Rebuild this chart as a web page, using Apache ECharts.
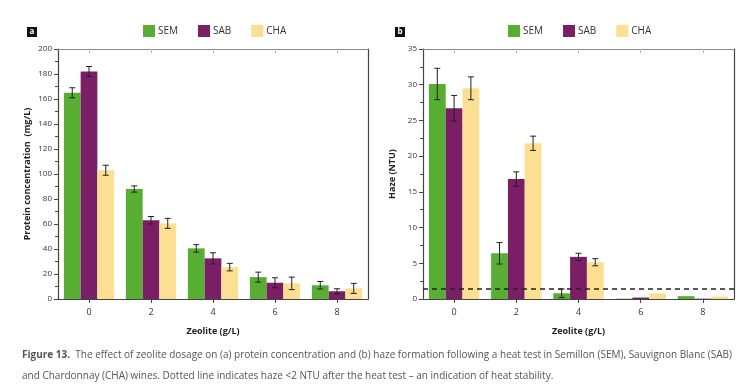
<!DOCTYPE html>
<html><head><meta charset="utf-8">
<script src="https://cdn.jsdelivr.net/npm/echarts@6/dist/echarts.min.js"></script>
<style>html,body{margin:0;padding:0;background:#fff}#c{width:751px;height:387px}</style>
</head><body><div id="c"></div>
<script>
var categories = ['0', '2', '4', '6', '8'];
var seriesNames = ['SEM', 'SAB', 'CHA'];
// Panel a: protein concentration (mg/L)
var semProtein = [165, 88, 40.5, 17.5, 11];
var sabProtein = [182, 63, 32.5, 13, 6.2];
var chaProtein = [103, 60.5, 25.5, 12.5, 8.5];
var semProteinErr = [4, 2.5, 3, 4, 3];
var sabProteinErr = [4, 3, 4.5, 4, 2];
var chaProteinErr = [4, 4, 3, 5, 4];
// Panel b: haze (NTU)
var semHaze = [30.1, 6.4, 0.8, 0.05, 0.4];
var sabHaze = [26.7, 16.8, 5.9, 0.2, 0.05];
var chaHaze = [29.5, 21.8, 5.15, 0.8, 0.35];
var semHazeErr = [2.2, 1.5, 0.6, 0, 0];
var sabHazeErr = [1.8, 1.0, 0.5, 0, 0];
var chaHazeErr = [1.6, 1.0, 0.5, 0, 0];
var hazeThreshold = 1.4;

var colors = ['#58ad33', '#7a1e66', '#fddf93'];
var chart = echarts.init(document.getElementById('c'), null, {renderer: 'canvas'});
var FONT = '"Open Sans", "Noto Sans", sans-serif';

function errRender(pos) {
  return function (params, api) {
    var e = api.value(2);
    if (!e) return null;
    var x = api.value(0), v = api.value(1);
    var band = api.size([1, 0])[0];
    var bw = band * 0.81 / 3;
    var cx = api.coord([x, v])[0] + (pos - 1) * bw;
    var yt = api.coord([x, v + e])[1], yb = api.coord([x, Math.max(v - e, 0)])[1];
    var cap = 3;
    var st = {stroke: '#222', lineWidth: 1};
    return {type: 'group', children: [
      {type: 'line', shape: {x1: cx, y1: yt, x2: cx, y2: yb}, style: st},
      {type: 'line', shape: {x1: cx - cap, y1: yt, x2: cx + cap, y2: yt}, style: st},
      {type: 'line', shape: {x1: cx - cap, y1: yb, x2: cx + cap, y2: yb}, style: st}
    ]};
  };
}
function zip(vals, errs) { return vals.map(function (v, i) { return [i, v, errs[i]]; }); }

function xAxes(gi) {
  return [
    {type: 'category', gridIndex: gi, data: categories, position: 'bottom',
     axisLine: {onZero: false, lineStyle: {color: '#444', width: 1.2}},
     axisTick: {show: true, alignWithLabel: true, length: 4, lineStyle: {color: '#444'}},
     axisLabel: {fontSize: 9, color: '#333', margin: 9, fontFamily: FONT},
     name: 'Zeolite (g/L)', nameLocation: 'middle', nameGap: 28,
     nameTextStyle: {fontSize: 9, fontWeight: 'bold', color: '#222', fontFamily: FONT}},
    {type: 'category', gridIndex: gi, data: categories, position: 'top',
     axisLine: {onZero: false, lineStyle: {color: '#888', width: 1.2}},
     axisTick: {show: true, alignWithLabel: true, inside: true, length: 4, lineStyle: {color: '#bbb'}},
     axisLabel: {show: false}}
  ];
}
function yAxes(gi, max, interval, name) {
  return [
    {type: 'value', gridIndex: gi, min: 0, max: max, interval: interval, position: 'left',
     axisLine: {show: true, onZero: false, lineStyle: {color: '#444', width: 1.2}},
     axisTick: {show: true, length: 4, lineStyle: {color: '#444'}},
     minorTick: {show: true, splitNumber: 2, length: 3, lineStyle: {color: '#444'}},
     splitLine: {show: false},
     axisLabel: {fontSize: 8, color: '#333', margin: 6, fontFamily: FONT},
     name: name, nameLocation: 'middle', nameGap: 26,
     nameTextStyle: {fontSize: 9, fontWeight: 'bold', color: '#222', fontFamily: FONT}},
    {type: 'value', gridIndex: gi, min: 0, max: max, interval: interval, position: 'right',
     axisLine: {show: true, onZero: false, lineStyle: {color: '#444', width: 1.2}},
     axisTick: {show: false}, axisLabel: {show: false}, splitLine: {show: false}}
  ];
}

var barSeries = [];
var protein = [semProtein, sabProtein, chaProtein];
var proteinErr = [semProteinErr, sabProteinErr, chaProteinErr];
var haze = [semHaze, sabHaze, chaHaze];
var hazeErr = [semHazeErr, sabHazeErr, chaHazeErr];
for (var i = 0; i < 3; i++) {
  barSeries.push({type: 'bar', name: seriesNames[i], xAxisIndex: 0, yAxisIndex: 0, data: protein[i],
    itemStyle: {color: colors[i]}, barGap: '0%', barCategoryGap: '19%'});
}
for (var i = 0; i < 3; i++) {
  var s = {type: 'bar', name: seriesNames[i], xAxisIndex: 2, yAxisIndex: 2, data: haze[i],
    itemStyle: {color: colors[i]}, barGap: '0%', barCategoryGap: '19%'};
  if (i === 2) {
    s.markLine = {silent: true, symbol: 'none', label: {show: false},
      lineStyle: {color: '#222', type: [5, 4], width: 1.6},
      data: [{yAxis: hazeThreshold}]};
  }
  barSeries.push(s);
}
for (var i = 0; i < 3; i++) {
  barSeries.push({type: 'custom', xAxisIndex: 0, yAxisIndex: 0, renderItem: errRender(i), data: zip(protein[i], proteinErr[i]), z: 5, silent: true});
  barSeries.push({type: 'custom', xAxisIndex: 2, yAxisIndex: 2, renderItem: errRender(i), data: zip(haze[i], hazeErr[i]), z: 5, silent: true});
}

function legend(left) {
  return {left: left, top: 25, padding: 0, itemWidth: 12, itemHeight: 12, itemGap: 20, icon: 'rect',
    data: seriesNames, selectedMode: false,
    textStyle: {fontSize: 10, color: '#333', padding: [0, 0, 0, -2], fontFamily: FONT}};
}

chart.setOption({
  animation: false,
  backgroundColor: '#fff',
  grid: [
    {left: 58, right: 383, top: 49, bottom: 88},
    {left: 423, right: 17, top: 49, bottom: 88}
  ],
  legend: [legend(143), legend(508)],
  xAxis: xAxes(0).concat(xAxes(1)),
  yAxis: yAxes(0, 200, 20, 'Protein concentration  (mg/L)').concat(yAxes(1, 35, 5, 'Haze (NTU)')),
  series: barSeries,
  graphic: [
    {type: 'rect', left: 27, top: 27, shape: {width: 10, height: 10}, style: {fill: '#111'}},
    {type: 'text', left: 29.5, top: 27.5, style: {text: 'a', fill: '#fff', font: 'bold 8px ' + FONT}},
    {type: 'rect', left: 395, top: 27, shape: {width: 10, height: 10}, style: {fill: '#111'}},
    {type: 'text', left: 397.5, top: 27.5, style: {text: 'b', fill: '#fff', font: 'bold 8px ' + FONT}},
    {type: 'text', left: 22, top: 350, style: {
      text: '{b|Figure 13.}  The effect of zeolite dosage on (a) protein concentration and (b) haze formation following a heat test in Semillon (SEM), Sauvignon Blanc (SAB)',
      rich: {b: {fontWeight: 'bold', fontSize: 10, fill: '#555', fontFamily: FONT}},
      fontSize: 10, fill: '#555', fontFamily: FONT}},
    {type: 'text', left: 22, top: 371, style: {
      text: 'and Chardonnay (CHA) wines. Dotted line indicates haze <2 NTU after the heat test \u2013 an indication of heat stability.',
      fontSize: 10, fill: '#555', fontFamily: FONT}}
  ]
});
</script></body></html>
